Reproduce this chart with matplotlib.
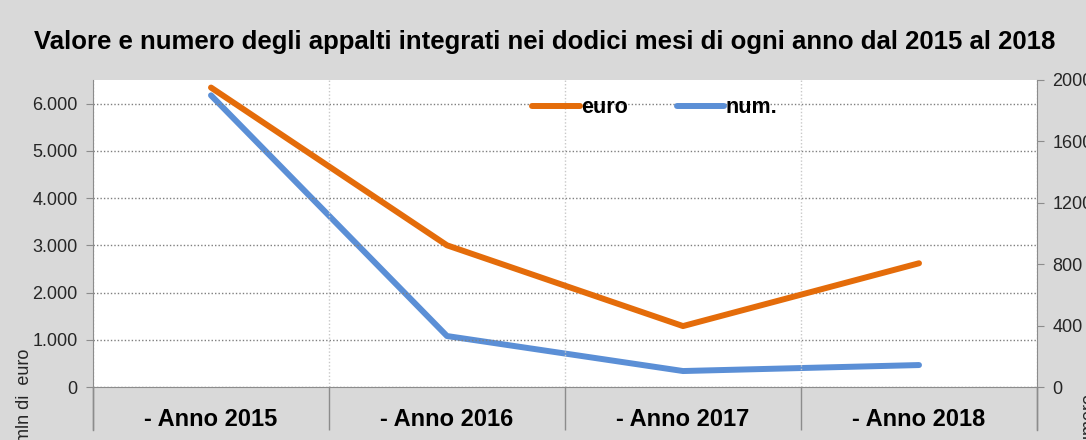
"""Valore e numero degli appalti integrati - line chart with two y axes."""

import matplotlib
matplotlib.use("Agg")
import matplotlib.pyplot as plt
from matplotlib.ticker import FuncFormatter

W, H, DPI = 1086, 440, 100

categories = ["- Anno 2015", "- Anno 2016", "- Anno 2017", "- Anno 2018"]
euro = [6340, 3000, 1290, 2620]   # mln di euro
num = [1900, 332, 104, 143]       # numero

ORANGE = "#e46c0a"
BLUE = "#5b8fd6"
BG = "#d9d9d9"
TXT = "#262626"

plt.rcParams["font.family"] = ["Liberation Sans", "DejaVu Sans"]

fig = plt.figure(figsize=(W / DPI, H / DPI), dpi=DPI, facecolor=BG)
ax = fig.add_axes([93 / W, 1 - 387 / H, (1037 - 93) / W, (387 - 80) / H])
ax2 = ax.twinx()

x = list(range(len(categories)))
ax.plot(x, euro, color=ORANGE, lw=4.3, solid_capstyle="round", label="euro", zorder=3)
ax2.plot(x, num, color=BLUE, lw=4.3, solid_capstyle="round", label="num.", zorder=3)

# y axes
ax.set_ylim(0, 6500)
ax.set_yticks(range(0, 6001, 1000))
ax.yaxis.set_major_formatter(FuncFormatter(lambda v, p: "{:,.0f}".format(v).replace(",", ".")))
ax2.set_ylim(0, 2000)
ax2.set_yticks(range(0, 2001, 400))

# x axis with category separators
ax.set_xlim(-0.5, len(categories) - 0.5)
ax.set_xticks(x)
ax.set_xticklabels(categories, fontsize=17, fontweight="bold", color="black")
ax.set_xticks([i - 0.5 for i in range(len(categories) + 1)], minor=True)
ax.tick_params(axis="x", which="major", length=0, pad=15)
ax.tick_params(axis="x", which="minor", length=31, color="#8c8c8c", width=1)

ax.tick_params(axis="y", length=5, color="#8c8c8c", labelsize=13, labelcolor=TXT, pad=6)
ax2.tick_params(axis="y", length=5, color="#8c8c8c", labelsize=13, labelcolor=TXT, pad=6)

# grids
ax.grid(axis="y", which="major", linestyle=(0, (1, 1.5)), color="#7f7f7f", lw=1)
ax.grid(axis="x", which="minor", linestyle=(0, (1, 1.5)), color="#c8c8c8", lw=1)

for a in (ax, ax2):
    a.spines["top"].set_visible(False)
    for s in ("left", "right", "bottom"):
        a.spines[s].set_color("#8c8c8c")
ax.spines["right"].set_visible(False)
ax2.spines["left"].set_visible(False)
ax2.spines["bottom"].set_visible(False)

# extend left/right axis lines below the plot area
for xp in (93, 1037):
    fig.add_artist(plt.Line2D([xp / W, xp / W], [1 - 387 / H, 1 - 430 / H],
                              color="#8c8c8c", lw=1))

# white plot area drawn by the back axes, euro axes on top
ax.set_zorder(ax2.get_zorder() + 1)
ax.patch.set_visible(False)
ax2.patch.set_visible(True)
ax2.patch.set_facecolor("white")

# legend
h1, l1 = ax.get_legend_handles_labels()
h2, l2 = ax2.get_legend_handles_labels()
ax.legend(h1 + h2, l1 + l2, loc="center", bbox_to_anchor=(0.595, 0.909), ncol=2,
          frameon=False, prop={"weight": "bold", "size": 15.5}, handlelength=2.2,
          handletextpad=0.05, columnspacing=2.3)

fig.text(0.502, 1 - 42 / H,
         "Valore e numero degli appalti integrati nei dodici mesi di ogni anno dal 2015 al 2018",
         ha="center", va="center", fontsize=18.5, fontweight="bold", color="black")
fig.text(25 / W, 1 - 396 / H, "mln di  euro", rotation=90, ha="center", va="center",
         fontsize=13, color=TXT)
fig.text(1088 / W, 1 - 422 / H, "numero", rotation=90, ha="center", va="center",
         fontsize=13, color=TXT)

fig.savefig("out.png", dpi=DPI, facecolor=fig.get_facecolor())
